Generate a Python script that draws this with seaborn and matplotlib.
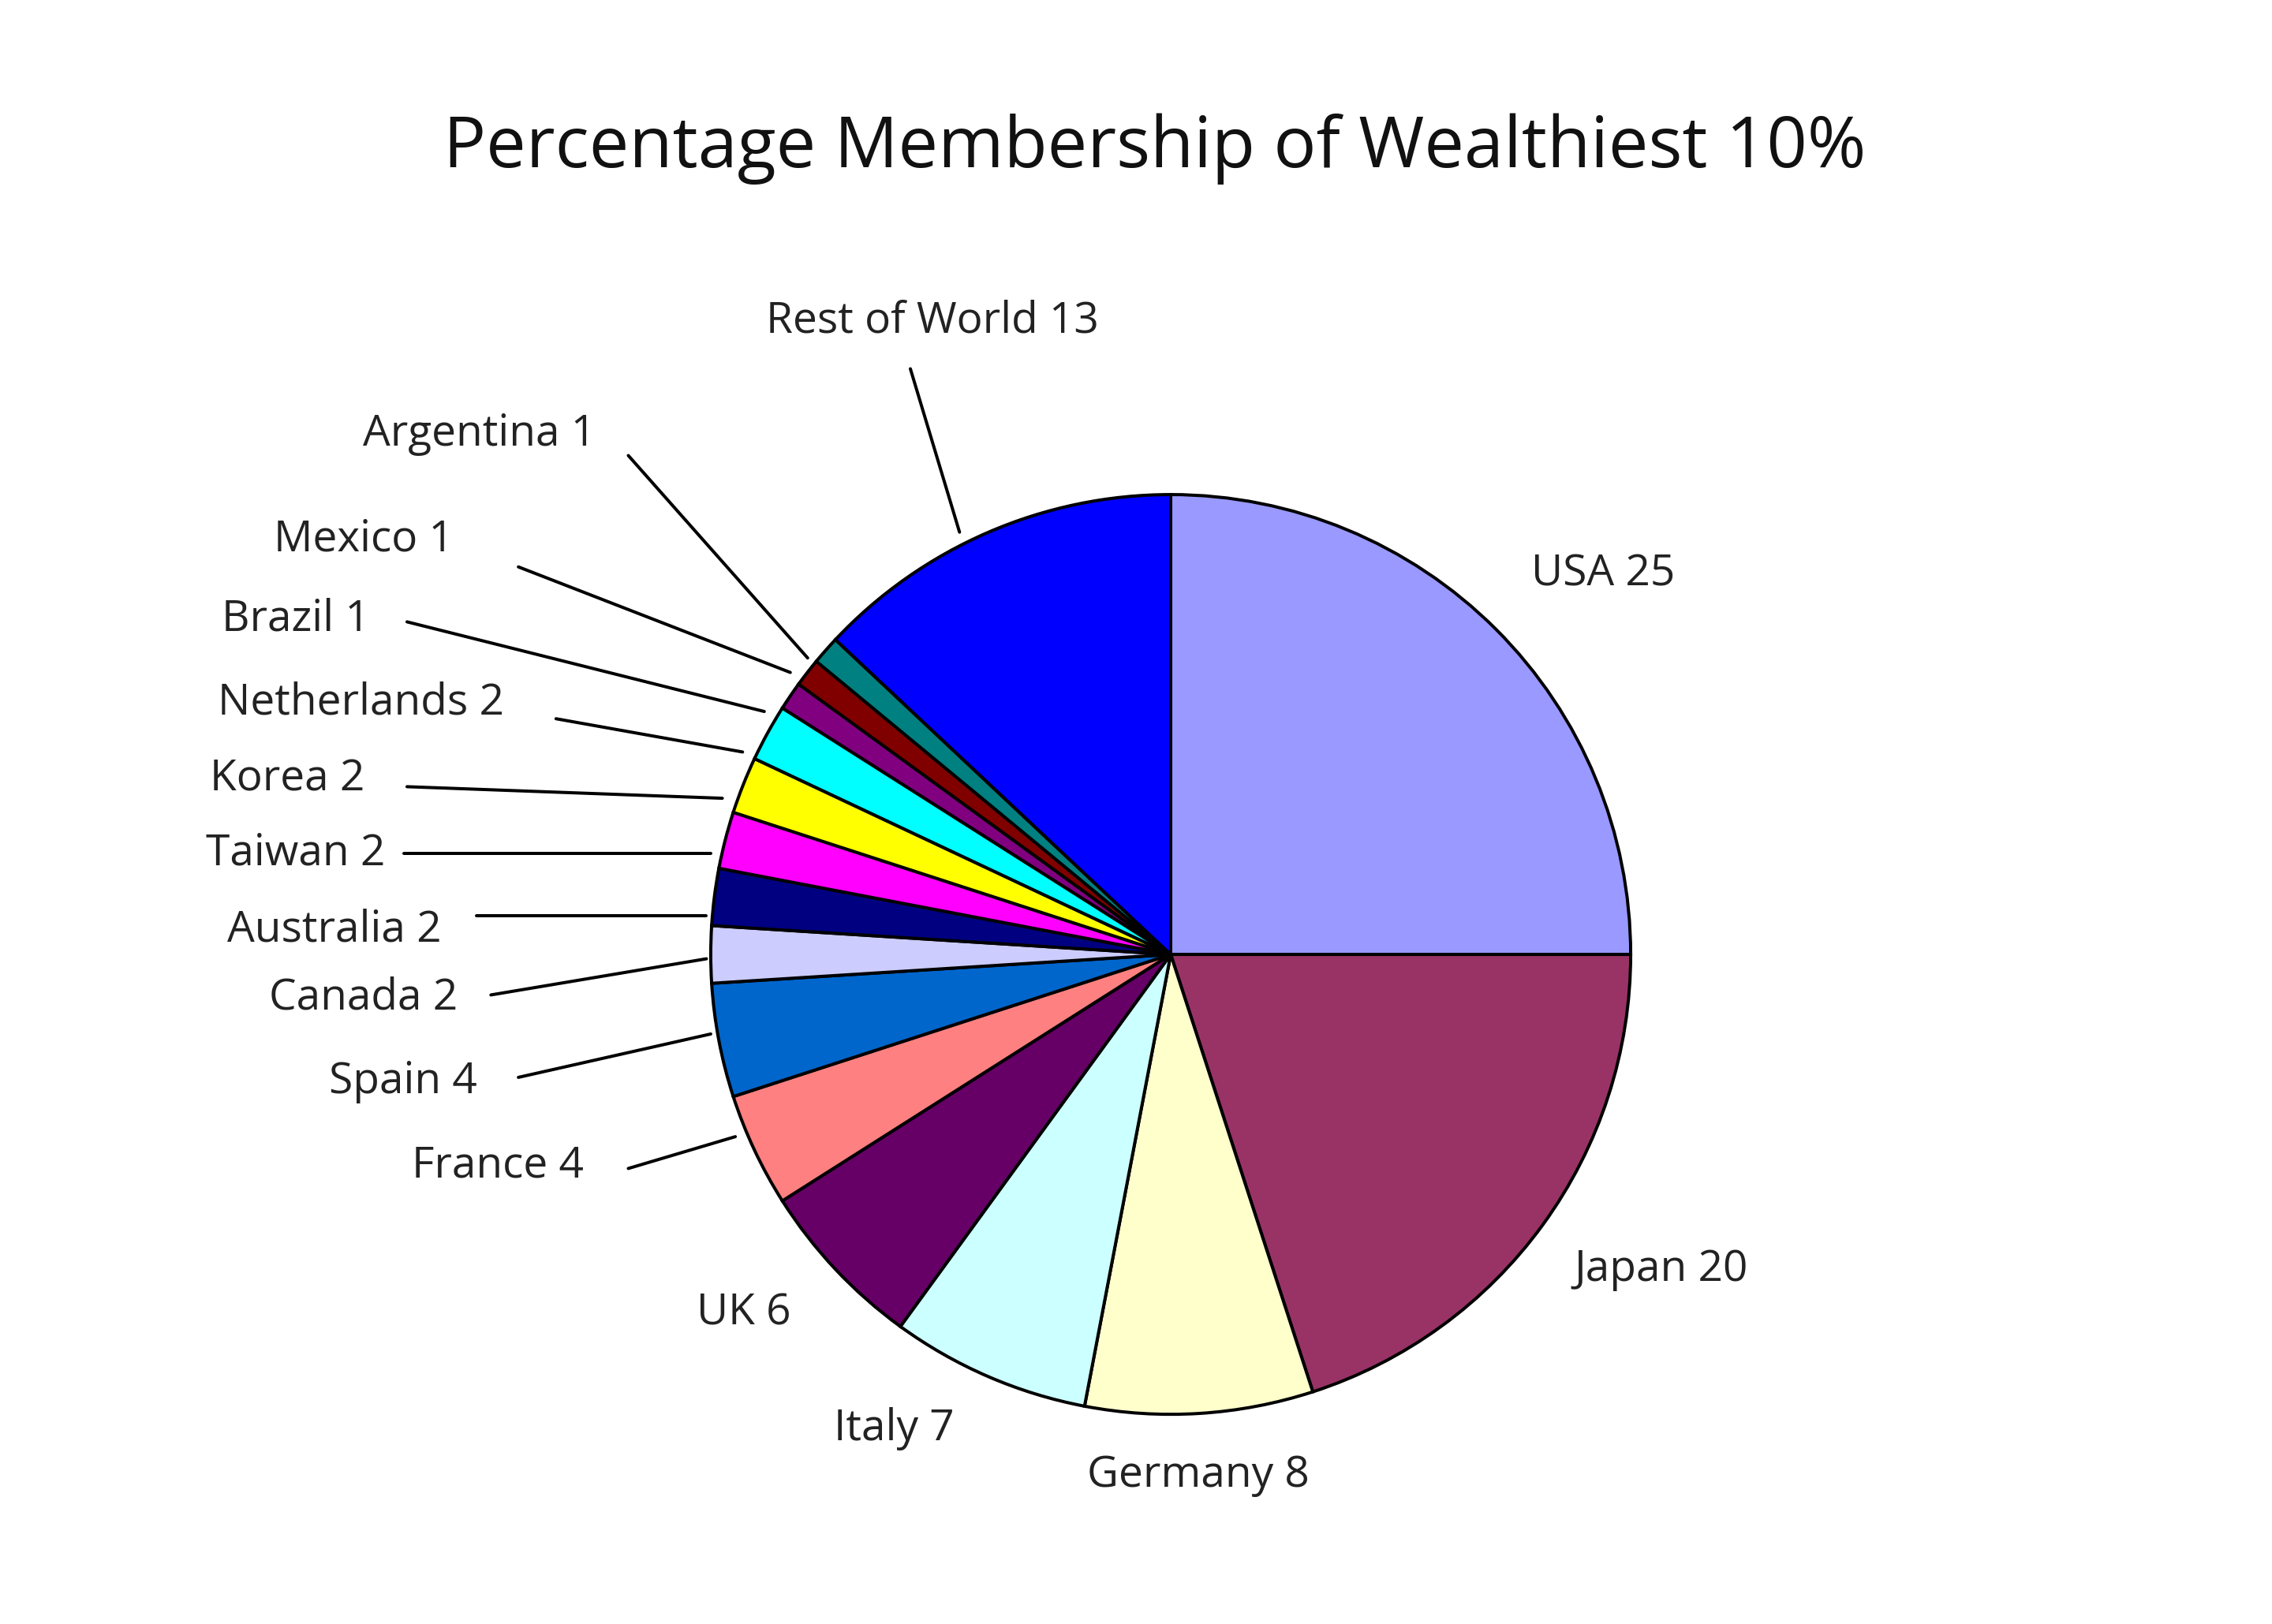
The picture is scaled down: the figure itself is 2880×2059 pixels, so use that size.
import matplotlib
matplotlib.use("Agg")
import matplotlib.pyplot as plt
import seaborn as sns

countries = ["USA", "Japan", "Germany", "Italy", "UK", "France", "Spain", "Canada",
             "Australia", "Taiwan", "Korea", "Netherlands", "Brazil", "Mexico",
             "Argentina", "Rest of World"]
values = [25, 20, 8, 7, 6, 4, 4, 2, 2, 2, 2, 2, 1, 1, 1, 13]
colors = ["#9999FF", "#993366", "#FFFFCC", "#CCFFFF", "#660066", "#FF8080", "#0066CC",
          "#CCCCFF", "#000080", "#FF00FF", "#FFFF00", "#00FFFF", "#800080", "#800000",
          "#008080", "#0000FF"]

# label placement (reference pixel frame, y downward): text center, optional leader line
label_pos = {
    "USA": ((1107, 397), None),
    "Japan": ((1147, 878), None),
    "Germany": ((827, 1020), None),
    "Italy": ((617, 988), None),
    "UK": ((513, 908), None),
    "France": ((343, 806), ((433, 808), (507, 786))),
    "Spain": ((277, 748), ((357, 745), (490, 715))),
    "Canada": ((250, 690), ((338, 688), (487, 663))),
    "Australia": ((230, 643), ((328, 633), (487, 633))),
    "Taiwan": ((203, 590), ((278, 590), (490, 590))),
    "Korea": ((197, 539), ((280, 544), (498, 552))),
    "Netherlands": ((248, 486), ((383, 497), (512, 520))),
    "Brazil": ((203, 428), ((280, 430), (527, 492))),
    "Mexico": ((250, 373), ((357, 392), (545, 465))),
    "Argentina": ((330, 300), ((433, 315), (557, 455))),
    "Rest of World": ((643, 222), ((628, 255), (662, 368))),
}

sns.set_theme(style="white")
plt.rcParams["font.family"] = ["Open Sans", "DejaVu Sans"]

W, H = 1568, 1123
fig = plt.figure(figsize=(16, 2059 / 180), dpi=180)
ax = fig.add_axes([0, 0, 1, 1])
ax.set_xlim(0, W)
ax.set_ylim(0, H)
ax.set_aspect("equal")
ax.axis("off")

ax.pie(values, colors=colors, startangle=90, counterclock=False,
       center=(808, H - 660), radius=318,
       wedgeprops=dict(edgecolor="black", linewidth=1.6), frame=True)
ax.set_xlim(0, W)
ax.set_ylim(0, H)
ax.axis("off")

for c, v in zip(countries, values):
    (tx, ty), line = label_pos[c]
    ax.text(tx, H - ty, f"{c} {v}", ha="center", va="center", fontsize=22, color="#222222")
    if line:
        (x1, y1), (x2, y2) = line
        ax.plot([x1, x2], [H - y1, H - y2], color="black", lw=1.6)

ax.text(797, H - 103, "Percentage Membership of Wealthiest 10%", ha="center", va="center",
        fontsize=36, color="#111111")

fig.savefig("out.png", dpi=180)
